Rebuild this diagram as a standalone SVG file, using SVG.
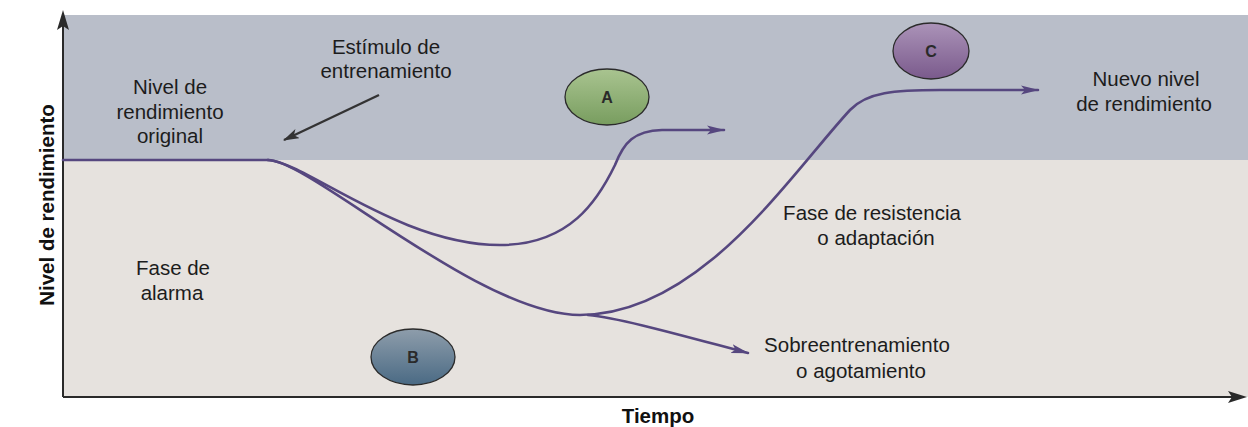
<svg xmlns="http://www.w3.org/2000/svg" width="1248" height="427" viewBox="0 0 1248 427">
<style>
.lbl{font-family:"Liberation Sans",Arial,sans-serif;font-size:20.5px;fill:#1c1c1c;text-anchor:middle}
.ax{font-family:"Liberation Sans",Arial,sans-serif;font-size:20.5px;font-weight:bold;fill:#111;text-anchor:middle}
.nl{font-family:"Liberation Sans",Arial,sans-serif;font-size:16px;font-weight:bold;fill:#2a2a2a;text-anchor:middle}
.curve{fill:none;stroke:#56477f;stroke-width:2.6;stroke-linecap:round}
.node{stroke:#2b2b2b;stroke-width:1.3}
</style>
<defs>
<marker id="pa" markerWidth="18" markerHeight="10" refX="17" refY="5" orient="auto" markerUnits="userSpaceOnUse">
<path d="M0,0.5 L18,5 L0,9.5 L4,5 z" fill="#56477f"/>
</marker>
<marker id="ga" markerWidth="16" markerHeight="10" refX="15" refY="5" orient="auto" markerUnits="userSpaceOnUse">
<path d="M0,0 L16,5 L0,10 L4,5 z" fill="#333"/>
</marker>
<linearGradient id="gA" x1="0" y1="0" x2="0" y2="1"><stop offset="0" stop-color="#a9c490"/><stop offset="1" stop-color="#789d5f"/></linearGradient>
<linearGradient id="gB" x1="0" y1="0" x2="0" y2="1"><stop offset="0" stop-color="#8e9dab"/><stop offset="1" stop-color="#4a6a84"/></linearGradient>
<linearGradient id="gC" x1="0" y1="0" x2="0" y2="1"><stop offset="0" stop-color="#ab93b8"/><stop offset="1" stop-color="#7a5a8c"/></linearGradient>
</defs>
<rect width="1248" height="427" fill="#ffffff"/>
<rect x="63" y="15" width="1185" height="145" fill="#b9bec9"/>
<rect x="63" y="160" width="1185" height="237" fill="#e6e2de"/>

<g id="axes">
<line x1="63" y1="397" x2="63" y2="26" stroke="#2a2a2a" stroke-width="2"/>
<path d="M63,10 L69,30 L63,26 L57,30 z" fill="#2a2a2a"/>
<line x1="63" y1="397" x2="1232" y2="397" stroke="#2a2a2a" stroke-width="2"/>
<path d="M1247,397 L1228,391 L1232,397 L1228,403 z" fill="#2a2a2a"/>
<text class="ax" x="658" y="423">Tiempo</text>
<text class="ax" transform="translate(54,205) rotate(-90)" x="0" y="0">Nivel de rendimiento</text>
</g>

<g id="connectors">
<path class="curve" d="M63,160 L268,160"/>
<path class="curve" d="M268,160 C310,160 480,315 580,315 C700,315 790,175 850,110 C867,92 895,90 940,90 L1038,90" marker-end="url(#pa)"/>
<path class="curve" d="M268,160 C305,162 400,245 500,245 C570,245 598,200 615,165 C624,142 634,131 662,130 L724,130" marker-end="url(#pa)"/>
<path class="curve" d="M588,315 C620,318 680,335 748,353" marker-end="url(#pa)"/>
<line x1="379" y1="95" x2="284" y2="140" stroke="#333" stroke-width="2.4" marker-end="url(#ga)"/>
</g>

<g id="label-estimulo">
<text class="lbl" x="386" y="54">Estímulo de</text>
<text class="lbl" x="386" y="78">entrenamiento</text>
</g>
<g id="label-original">
<text class="lbl" x="170" y="94">Nivel de</text>
<text class="lbl" x="170" y="119">rendimiento</text>
<text class="lbl" x="170" y="143">original</text>
</g>
<g id="label-nuevo">
<text class="lbl" x="1146" y="86">Nuevo nivel</text>
<text class="lbl" x="1144" y="111">de rendimiento</text>
</g>
<g id="label-resistencia">
<text class="lbl" x="872" y="220">Fase de resistencia</text>
<text class="lbl" x="876" y="245">o adaptación</text>
</g>
<g id="label-alarma">
<text class="lbl" x="173" y="275">Fase de</text>
<text class="lbl" x="172" y="300">alarma</text>
</g>
<g id="label-sobre">
<text class="lbl" x="857" y="352">Sobreentrenamiento</text>
<text class="lbl" x="861" y="378">o agotamiento</text>
</g>

<g id="node-A">
<ellipse class="node" cx="607" cy="97" rx="42" ry="28" fill="url(#gA)"/>
<text class="nl" x="607" y="103">A</text>
</g>
<g id="node-B">
<ellipse class="node" cx="413" cy="357" rx="42" ry="28" fill="url(#gB)"/>
<text class="nl" x="413" y="363">B</text>
</g>
<g id="node-C">
<ellipse class="node" cx="931" cy="51" rx="38" ry="28" fill="url(#gC)"/>
<text class="nl" x="931" y="57">C</text>
</g>
</svg>
